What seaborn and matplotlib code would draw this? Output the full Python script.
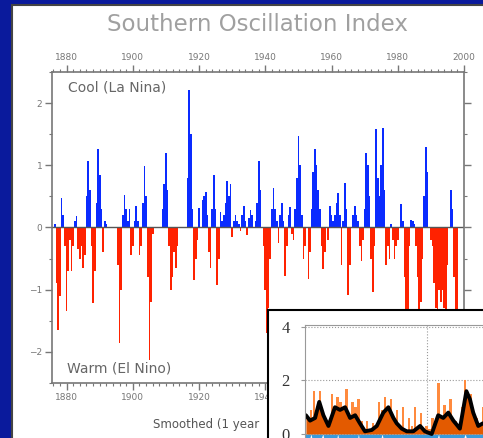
import numpy as np
import pandas as pd
import matplotlib
matplotlib.use("Agg")
from matplotlib import pyplot as plt
from matplotlib.patches import Rectangle
from matplotlib.ticker import MultipleLocator
import seaborn as sns

sns.set_style("ticks")
plt.rcParams['font.family'] = ['DejaVu Sans']

# SOI, half-year steps starting 1876.5
soi_1870s = [0.05, -0.9, -1.65, -1.1, 0.48, 0.2, -0.3]
soi_1880s = [-1.35, -0.7, -0.2, -0.7, -0.3, 0.1, 0.19, -0.35, -0.5, -0.3,
             -0.65, -0.45, 0.5, 1.07, 0.6, -0.3, -1.21, -0.7, 0.4, 1.27]
soi_1890s = [0.85, 0.3, -0.4, 0.1, 0.05, 0.0, 0.0, 0.0, 0.0, 0.0,
             0.0, -0.6, -1.85, -1.0, 0.2, 0.53, 0.3, 0.1, 0.3, -0.45]
soi_1900s = [-0.3, 0.1, 0.34, 0.1, -0.45, -0.3, 0.4, 0.99, 0.5, -0.8,
             -2.13, -1.2, -0.1, 0.0, 0.0, 0.0, 0.0, 0.0, 0.3, 0.7]
soi_1910s = [1.2, 0.6, -0.3, -1.0, -0.8, -0.4, -0.65, -0.3, 0.0, 0.0,
             0.0, 0.0, 0.0, 0.8, 2.21, 1.5, 0.3, -0.84, -0.5, -0.2]
soi_1920s = [0.32, 0.0, 0.45, 0.5, 0.57, 0.2, -0.4, -0.65, 0.3, 0.84,
             0.3, -0.92, -0.5, 0.25, 0.1, 0.2, 0.4, 0.75, 0.5, 0.7]
soi_1930s = [-0.15, 0.1, 0.2, 0.1, 0.05, -0.05, 0.2, 0.34, 0.1, -0.12,
             0.15, 0.28, 0.2, 0.0, 0.1, 0.4, 1.07, 0.6, 0.0, -0.3]
soi_1940s = [-1.0, -1.7, -1.3, -0.5, 0.3, 0.64, 0.3, 0.1, -0.25, 0.2,
             0.4, 0.1, -0.78, -0.3, 0.2, 0.33, -0.1, -0.2, 0.3, 0.8]
soi_1950s = [1.47, 1.0, 0.2, -0.5, -0.3, 0.0, -0.83, -0.4, 0.3, 0.9,
             1.26, 1.0, 0.6, 0.3, -0.3, -0.67, -0.4, 0.0, -0.2, 0.35]
soi_1960s = [0.2, 0.1, 0.2, 0.4, 0.56, 0.2, -0.6, 0.1, 0.72, 0.3,
             -1.08, -0.6, 0.0, 0.2, 0.35, 0.2, 0.1, -0.3, -0.54, -0.2]
soi_1970s = [0.3, 1.19, 1.0, 0.5, -0.5, -1.03, -0.3, 1.58, 0.8, 0.5,
             1.0, 1.6, 0.6, -0.6, -0.3, -0.5, 0.05, -0.2, -0.5, -0.3]
soi_1980s = [-0.2, 0.0, 0.37, 0.1, -0.8, -2.0, -1.6, -0.3, 0.12, 0.1,
             0.05, -0.3, -0.8, -1.5, -1.2, -0.5, 0.5, 1.3, 0.9, 0.0]
soi_1990s = [-0.2, -0.3, -0.9, -1.3, -1.6, -1.0, -1.2, -1.0, -1.3, -1.45,
             -0.6, 0.0, 0.6, 0.3, -0.8, -2.0, -1.5, 0.0]

soi = (soi_1870s + soi_1880s + soi_1890s + soi_1900s + soi_1910s + soi_1920s
       + soi_1930s + soi_1940s + soi_1950s + soi_1960s + soi_1970s + soi_1980s + soi_1990s)
years = 1876.5 + 0.5 * np.arange(len(soi))

df = pd.DataFrame({"year": years, "soi": soi})
df["phase"] = np.where(df["soi"] >= 0, "cool", "warm")

# inset (smoothed index), partly hidden in the picture
inset_x = list(range(61))
inset_orange = [1.4, 0.6, 0.9, 1.6, 0.8, 1.6, 0.5, 0.6, 0.2, 1.5,
                0.8, 1.4, 1.2, 0.7, 1.7, 0.6, 1.2, 1.0, 1.3, 0.5,
                0.2, 0.5, 0.2, 0.4, 0.3, 1.2, 0.9, 1.4, 0.8, 1.3,
                0.5, 0.9, 0.3, 1.0, 0.2, 0.6, 0.3, 1.0, 0.2, 0.8,
                0.1, 0.3, 0.2, 0.6, 0.4, 1.9, 0.6, 1.1, 0.7, 1.3,
                0.4, 0.5, 0.3, 1.0, 2.0, 1.4, 1.5, 0.8, 0.6, 0.3, 1.0]
inset_blue = [-0.6, -0.4, 0.0, -0.5, -0.6, -0.3, 0.0, -0.5, -0.7, -0.4,
              -0.6, 0.0, -0.5, -0.4, -0.6, -0.3, -0.5, -0.6, 0.0, -0.7,
              -0.8, -0.6, -0.7, -0.5, -0.6, -0.4, 0.0, -0.5, -0.6, -0.4,
              -0.6, -0.5, -0.7, -0.4, -0.8, -0.6, -0.5, -0.4, -0.7, -0.6,
              -0.8, -0.5, -0.7, -0.6, -0.4, 0.0, -0.5, -0.3, -0.6, -0.4,
              -0.7, -0.6, -0.5, -0.3, 0.0, -0.4, -0.3, -0.5, -0.6, -0.7, -0.4]
black_x = [0.3, 1.7, 3.4, 4.8, 6.2, 7.9, 10.1, 11.8, 13.5, 15.2, 16.9, 18.5,
           20.2, 22.5, 24.2, 26.4, 28.1, 29.8, 30.9, 32.6, 34.3, 36.5, 38.8,
           40.4, 42.7, 44.9, 46.6, 48.3, 50.0, 52.2, 54.4, 55.6, 56.7, 58.4, 60.0]
black_y = [0.7, 0.5, 0.6, 1.2, 0.7, 0.3, 1.0, 0.9, 1.0, 0.6, 0.7, 0.4,
           0.1, 0.15, 0.3, 0.8, 1.0, 0.6, 0.4, 0.2, 0.1, 0.1, 0.3,
           0.1, 0.0, 0.7, 0.6, 0.8, 0.5, 0.2, 1.6, 1.3, 0.8, 0.3, 0.4]

fig = plt.figure(figsize=(4.83, 4.38), dpi=100)
fig.patch.set_facecolor("#0A1A9C")
fig.add_artist(Rectangle((0.0248, -0.05), 1.1, 1.0386, transform=fig.transFigure,
                         facecolor="white", edgecolor="#444444", linewidth=1.5, zorder=-1))

ax = fig.add_axes([0.1077, 0.1256, 0.853, 0.710])
sns.barplot(data=df, x="year", y="soi", hue="phase", native_scale=True,
            palette={"cool": "#0A2BFF", "warm": "#FF2200"}, saturation=1, dodge=False,
            width=1.0, errorbar=None, legend=False, linewidth=0, ax=ax)
ax.axhline(0, color="#555555", lw=1)
ax.set_xlim(1875.6, 2000)
ax.set_ylim(-2.5, 2.5)
ax.set_xlabel("")
ax.set_ylabel("")
ax.set_xticks([1880, 1900, 1920, 1940, 1960, 1980, 2000])
ax.set_xticklabels(["1880", "1900", "1920", "1940", "1960", "1980", "2000"])
ax.xaxis.set_minor_locator(MultipleLocator(2))
ax.set_yticks([-2, -1, 0, 1, 2])
ax.set_yticklabels(["\u22122", "\u22121", "0", "1", "2"])
ax.yaxis.set_minor_locator(MultipleLocator(0.5))
ax.tick_params(which="both", top=True, right=True, labeltop=True, labelright=False,
               direction="out", color="#777777", labelcolor="#777777", labelsize=6.5, pad=2)
ax.tick_params(which="major", length=5, width=1)
ax.tick_params(which="minor", length=2.5, width=0.8)
for s in ax.spines.values():
    s.set_color("#777777")
    s.set_linewidth(1.2)

ax.text(0.039, 0.949, "Cool (La Nina)", transform=ax.transAxes, fontsize=10,
        color="#666666", va="center")
ax.text(0.036, 0.048, "Warm (El Nino)", transform=ax.transAxes, fontsize=10,
        color="#666666", va="center")

fig.text(0.534, 0.943, "Southern Oscillation Index", ha="center", va="center",
         fontsize=16.5, color="#a0a0a0")
fig.text(0.317, 0.0297, "Smoothed (1 year", fontsize=8.5,
         color="#555555", va="center")

# inset panel
box = fig.add_axes([0.5549, -0.1, 0.5, 0.3922])
box.set_zorder(5)
box.set_xticks([])
box.set_yticks([])
box.set_facecolor("white")
for s in box.spines.values():
    s.set_color("black")
    s.set_linewidth(1.5)

inset = fig.add_axes([0.6315, 0.0, 0.3685, 0.258])
inset.set_zorder(6)
inset.set_facecolor("white")
inset.fill_between(inset_x, inset_blue, 0, color="#3A9BDC", lw=0)
sns.barplot(x=inset_x, y=inset_orange, native_scale=True, color="#FF8A3D",
            saturation=1, width=0.8, errorbar=None, linewidth=0, ax=inset)
inset.fill_between(black_x, black_y, 0, color="#E35A00", lw=0)
sns.lineplot(x=black_x, y=black_y, color="black", lw=2.8, ax=inset)
inset.set_xlim(0, 60)
inset.set_ylim(-0.15, 4.075)
inset.set_xticks([41])
inset.set_xticklabels([])
inset.set_xlabel("")
inset.set_yticks([0, 2, 4])
inset.set_yticklabels(["0", "2", "4"], family=["Liberation Serif", "DejaVu Serif"],
                      fontsize=12, color="#333333")
inset.tick_params(length=3, color="#999999", pad=8)
inset.grid(True, ls=":", color="#999999", lw=0.8)
for side in ["left", "top"]:
    inset.spines[side].set_color("#999999")
for side in ["right", "bottom"]:
    inset.spines[side].set_visible(False)

fig.savefig("out.png", dpi=100, facecolor=fig.get_facecolor())
